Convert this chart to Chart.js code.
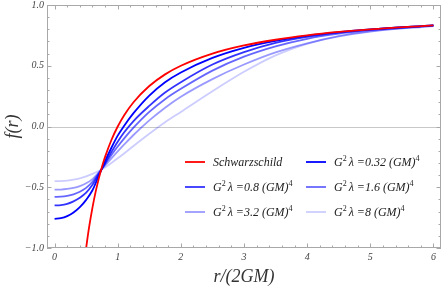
<!DOCTYPE html>
<html>
<head>
<meta charset="utf-8">
<script src="https://cdn.jsdelivr.net/npm/chart.js@4"></script>
<style>
  body { margin: 0; background: #fff; }
  #wrap { width: 444px; height: 289px; }
</style>
</head>
<body>
<div id="wrap"><canvas id="plot" width="444" height="289"></canvas></div>
<script>
// radius in units of 2GM
let rValues = [0, 0.1, 0.2, 0.3, 0.4, 0.5, 0.6, 0.7, 0.8, 0.9, 1, 1.1, 1.25, 1.5, 1.75, 2, 2.5, 3, 3.5, 4, 4.5, 5, 6];
let schwR = [0.5, 0.525, 0.55, 0.6, 0.65, 0.7, 0.75, 0.8, 0.9, 1, 1.1, 1.25, 1.5, 1.75, 2, 2.5, 3, 3.5, 4, 4.5, 5, 6];
let schwF = [-1, -0.905, -0.818, -0.667, -0.538, -0.429, -0.333, -0.25, -0.111, 0, 0.091, 0.2, 0.333, 0.429, 0.5, 0.6, 0.667, 0.714, 0.75, 0.778, 0.8, 0.833];

let f032 = [-0.76, -0.755, -0.738, -0.708, -0.664, -0.604, -0.525, -0.405, -0.285, -0.175, -0.075, 0.005, 0.11, 0.255, 0.365, 0.445, 0.565, 0.648, 0.705, 0.746, 0.776, 0.799, 0.833];
let f08 = [-0.65, -0.647, -0.636, -0.616, -0.587, -0.545, -0.48, -0.393, -0.30, -0.21, -0.125, -0.05, 0.045, 0.17, 0.28, 0.365, 0.51, 0.612, 0.688, 0.738, 0.772, 0.797, 0.832];
let f16 = [-0.58, -0.578, -0.571, -0.558, -0.537, -0.505, -0.455, -0.385, -0.31, -0.235, -0.165, -0.10, -0.01, 0.12, 0.225, 0.31, 0.46, 0.575, 0.66, 0.722, 0.764, 0.793, 0.831];
let f32 = [-0.52, -0.519, -0.514, -0.505, -0.49, -0.467, -0.433, -0.378, -0.32, -0.262, -0.205, -0.15, -0.07, 0.05, 0.155, 0.245, 0.39, 0.51, 0.61, 0.685, 0.742, 0.782, 0.827];
let f8 = [-0.45, -0.449, -0.445, -0.438, -0.426, -0.41, -0.39, -0.366, -0.335, -0.30, -0.262, -0.222, -0.16, -0.06, 0.035, 0.12, 0.29, 0.45, 0.585, 0.68, 0.745, 0.785, 0.83];

let xTicks = [0, 1, 2, 3, 4, 5, 6];
let yTicks = [-1.0, -0.5, 0.0, 0.5, 1.0];
let lambdaLabels = ["0.32", "0.8", "1.6", "3.2", "8"];

function pts(xs, ys) {
    let out = [];
    for (let i = 0; i < xs.length; i++) out.push({x: xs[i], y: ys[i]});
    return out;
}

function line(label, xs, ys, color) {
    return {
        label: label,
        data: pts(xs, ys),
        borderColor: color,
        borderWidth: 1.8,
        pointRadius: 0,
        fill: false,
        cubicInterpolationMode: 'monotone'
    };
}

const blues = ["rgba(0,0,255,1)", "rgba(0,0,255,0.8)", "rgba(0,0,255,0.6)", "rgba(0,0,255,0.4)", "rgba(0,0,255,0.2)"];

const serif = '"Liberation Serif", "DejaVu Serif", serif';

// frame, ticks, zero line, labels and legend drawn with the chart's own scales
const framePlugin = {
    id: 'frame',
    beforeDatasetsDraw(chart) {
        let ctx = chart.ctx, a = chart.chartArea, y = chart.scales.y;
        ctx.save();
        ctx.strokeStyle = "#c8c8c8";
        ctx.lineWidth = 1;
        let y0 = Math.round(y.getPixelForValue(0)) + 0.5;
        ctx.beginPath();
        ctx.moveTo(a.left, y0);
        ctx.lineTo(a.right, y0);
        ctx.stroke();
        ctx.restore();
    },
    afterDraw(chart) {
        let ctx = chart.ctx, a = chart.chartArea, xs = chart.scales.x, ys = chart.scales.y;
        ctx.save();
        ctx.strokeStyle = "#a8a8a8";
        ctx.lineWidth = 1;
        ctx.strokeRect(a.left + 0.5, a.top + 0.5, a.right - a.left - 1, a.bottom - a.top - 1);

        ctx.beginPath();
        for (let i = 0; i <= 30; i++) {
            let v = i * 0.2;
            let px = Math.round(xs.getPixelForValue(v)) + 0.5;
            let len = (i % 5 === 0) ? 4.5 : 2.5;
            ctx.moveTo(px, a.bottom);
            ctx.lineTo(px, a.bottom - len);
            ctx.moveTo(px, a.top);
            ctx.lineTo(px, a.top + len);
        }
        for (let i = -10; i <= 10; i++) {
            let v = i * 0.1;
            let py = Math.round(ys.getPixelForValue(v)) + 0.5;
            let len = (i % 5 === 0) ? 4.5 : 2.5;
            ctx.moveTo(a.left, py);
            ctx.lineTo(a.left + len, py);
            ctx.moveTo(a.right, py);
            ctx.lineTo(a.right - len, py);
        }
        ctx.stroke();

        // tick labels
        ctx.fillStyle = "#444";
        ctx.font = "italic 10px " + serif;
        ctx.textAlign = "center";
        ctx.textBaseline = "alphabetic";
        xTicks.forEach(function (v) {
            ctx.fillText(String(v), xs.getPixelForValue(v), 260);
        });
        ctx.textAlign = "right";
        ctx.textBaseline = "middle";
        yTicks.forEach(function (v) {
            let s = v.toFixed(1).replace("-", "\u2212");
            ctx.fillText(s, 44, ys.getPixelForValue(v));
        });

        // axis titles
        ctx.fillStyle = "#333";
        ctx.font = "italic 18px " + serif;
        ctx.textAlign = "center";
        ctx.textBaseline = "alphabetic";
        ctx.fillText("r/(2GM)", (a.left + a.right) / 2, 282);
        ctx.save();
        ctx.translate(18, (a.top + a.bottom) / 2);
        ctx.rotate(-Math.PI / 2);
        ctx.fillText("f(r)", 0, 0);
        ctx.restore();

        // legend
        let entries = [
            {color: "rgb(255,0,0)", lam: null, x: 185, y: 162},
            {color: blues[0], lam: lambdaLabels[0], x: 306, y: 162},
            {color: blues[1], lam: lambdaLabels[1], x: 185, y: 187},
            {color: blues[2], lam: lambdaLabels[2], x: 306, y: 187},
            {color: blues[3], lam: lambdaLabels[3], x: 185, y: 212},
            {color: blues[4], lam: lambdaLabels[4], x: 306, y: 212}
        ];
        entries.forEach(function (e) {
            ctx.strokeStyle = e.color;
            ctx.lineWidth = 1.8;
            ctx.beginPath();
            ctx.moveTo(e.x, e.y);
            ctx.lineTo(e.x + 20, e.y);
            ctx.stroke();
            ctx.fillStyle = "#222";
            ctx.textAlign = "left";
            ctx.textBaseline = "alphabetic";
            let tx = e.x + 28, by = e.y + 4;
            ctx.font = "italic 12px " + serif;
            if (!e.lam) {
                ctx.fillText("Schwarzschild", tx, by);
                return;
            }
            ctx.fillText("G", tx, by);
            tx += ctx.measureText("G").width;
            ctx.font = "8px " + serif;
            ctx.fillText("2", tx, by - 5);
            tx += ctx.measureText("2").width + 2;
            ctx.font = "italic 12px " + serif;
            let mid = "\u03bb =" + e.lam + " (GM)";
            ctx.fillText(mid, tx, by);
            tx += ctx.measureText(mid).width;
            ctx.font = "8px " + serif;
            ctx.fillText("4", tx, by - 5);
        });
        ctx.restore();
    }
};

new Chart(document.getElementById("plot").getContext("2d"), {
    type: 'line',
    data: {
        datasets: [
            line("Schwarzschild", schwR, schwF, "rgb(255,0,0)"),
            line("0.32", rValues, f032, blues[0]),
            line("0.8", rValues, f08, blues[1]),
            line("1.6", rValues, f16, blues[2]),
            line("3.2", rValues, f32, blues[3]),
            line("8", rValues, f8, blues[4])
        ]
    },
    options: {
        responsive: false,
        devicePixelRatio: 1,
        animation: false,
        layout: {padding: {left: 47, right: 3, top: 5, bottom: 41}},
        scales: {
            x: {type: 'linear', min: -0.12, max: 6.12, display: false},
            y: {type: 'linear', min: -1, max: 1, display: false}
        },
        plugins: {
            legend: {display: false},
            tooltip: {enabled: false}
        }
    },
    plugins: [framePlugin]
});
</script>
</body>
</html>
